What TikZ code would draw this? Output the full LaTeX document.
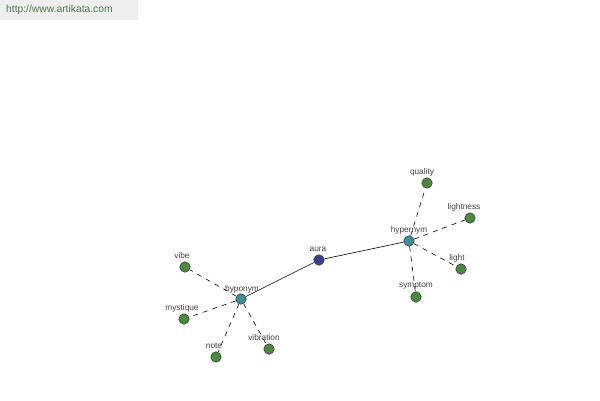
\documentclass[tikz,border=0pt]{standalone}
\usepackage{fontspec}
\setmainfont{Liberation Sans}
\begin{document}
\begin{tikzpicture}[x=1pt,y=-1pt,
  dot/.style={circle,draw=black!80,line width=0.5pt,minimum size=10.5pt,inner sep=0pt},
  rootdot/.style={dot,fill=rootc},
  hubdot/.style={dot,fill=hubc},
  leafdot/.style={dot,fill=leafc},
  lbl/.style={font=\fontsize{8.3}{9}\selectfont,text=black!75,inner sep=0pt},
  solidedge/.style={draw=black,line width=0.6pt},
  dashedge/.style={draw=black,line width=0.6pt,dash pattern=on 5pt off 5pt}]
\definecolor{rootc}{HTML}{3A3F8C}
\definecolor{hubc}{HTML}{3E8E95}
\definecolor{leafc}{HTML}{4B8A3E}
\definecolor{headbg}{HTML}{EEEEEE}
\definecolor{headtxt}{HTML}{4E7A4E}
\useasboundingbox (0,0) rectangle (600,400);
\fill[headbg] (0,0) rectangle (138,20);
\node[anchor=west,font=\fontsize{10.3}{12}\selectfont,text=headtxt,inner sep=0pt] (url) at (6,10) {http://www.artikata.com};
% edges first (behind nodes)
\coordinate (caura) at (319,260);
\coordinate (chyper) at (409,241);
\coordinate (chypo) at (241,299);
% nodes
\node[rootdot] (aura) at (caura) {};
\node[hubdot] (hyper) at (chyper) {};
\node[hubdot] (hypo) at (chypo) {};
\node[leafdot] (quality) at (427,183) {};
\node[leafdot] (lightness) at (470,218) {};
\node[leafdot] (light) at (461,269) {};
\node[leafdot] (symptom) at (416,297) {};
\node[leafdot] (vibe) at (185,267) {};
\node[leafdot] (mystique) at (184,319) {};
\node[leafdot] (note) at (216,357) {};
\node[leafdot] (vibration) at (269,349) {};
% edges
\draw[solidedge] (aura) -- (hyper);
\draw[solidedge] (aura) -- (hypo);
\draw[dashedge] (hyper) -- (quality);
\draw[dashedge] (hyper) -- (lightness);
\draw[dashedge] (hyper) -- (light);
\draw[dashedge] (hyper) -- (symptom);
\draw[dashedge] (hypo) -- (vibe);
\draw[dashedge] (hypo) -- (mystique);
\draw[dashedge] (hypo) -- (note);
\draw[dashedge] (hypo) -- (vibration);
% labels
\node[lbl] (laura) at (318,249) {aura};
\node[lbl] (lhyper) at (409,230) {hypernym};
\node[lbl] (lhypo) at (242,289) {byponym};
\node[lbl] (lquality) at (422,172) {quality};
\node[lbl] (llightness) at (464,207) {lightness};
\node[lbl] (llight) at (457,258) {light};
\node[lbl] (lsymptom) at (416,286) {symptom};
\node[lbl] (lvibe) at (182,256) {vibe};
\node[lbl] (lmystique) at (182,308) {mystique};
\node[lbl] (lnote) at (214,346) {note};
\node[lbl] (lvibration) at (264,338) {vibration};
\end{tikzpicture}
\end{document}
